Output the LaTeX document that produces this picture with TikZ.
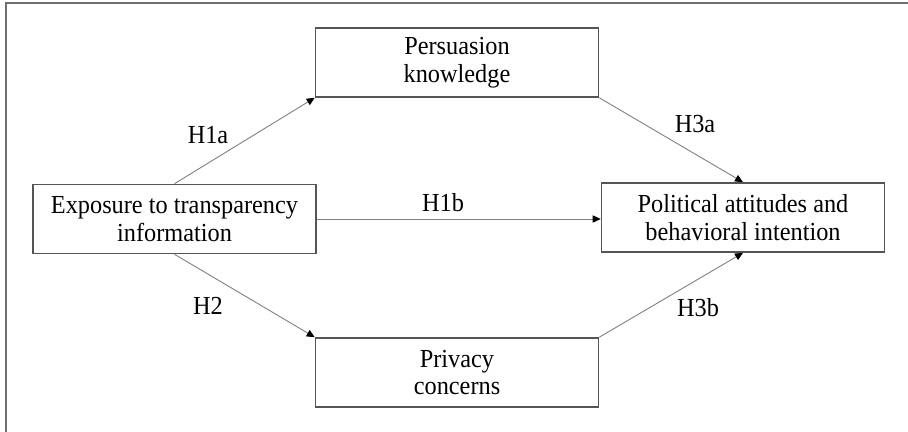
\documentclass[tikz,border=0pt]{standalone}
\usepackage{fontspec}
\setmainfont[FakeStretch=0.935]{Liberation Serif}
\usetikzlibrary{arrows.meta}
\definecolor{boxgray}{HTML}{555555}
\definecolor{linegray}{HTML}{808080}
\tikzset{
	varbox/.style={draw=boxgray, line width=0.8pt, minimum width=141.5pt, minimum height=34.5pt, align=center, inner sep=0pt, font=\fontsize{13}{13.8}\selectfont},
	hyp/.style={font=\fontsize{13}{13.8}\selectfont},
	path/.style={draw=linegray, line width=0.45pt, -{Triangle[length=4pt,width=3.6pt,fill=black,color=black]}}
}

\begin{document}
\begin{tikzpicture}[x=0.5pt, y=-0.5pt]
			%%%%% START %%%%%
			\useasboundingbox (0, 0) rectangle (908, 432);
			\draw[boxgray!85, line width=1pt] (908, 3) -- (6, 3) -- (6, 432);
			
			\node[varbox] (persuasion) at (457, 62.5) {Persuasion\\knowledge};
			\node[varbox] (exposure) at (174.5, 219) {Exposure to transparency\\information};
			\node[varbox] (political) at (743, 217.5) {Political attitudes and\\behavioral intention};
			\node[varbox] (privacy) at (457, 372.5) {Privacy\\concerns};
			
			\draw[path] (exposure.north) -- (persuasion.south west);
			\draw[path] (exposure.east) -- (political.west |- exposure.east);
			\draw[path] (exposure.south) -- (privacy.north west);
			\draw[path] (persuasion.south east) -- (political.north);
			\draw[path] (privacy.north east) -- (political.south);
			
			\node[hyp] (h1a) at (208, 135) {H1a};
			\node[hyp] (h1b) at (443, 203) {H1b};
			\node[hyp] (h2) at (208, 306) {H2};
			\node[hyp] (h3a) at (695, 124) {H3a};
			\node[hyp] (h3b) at (698, 308) {H3b};
			%%%%% END %%%%%
		\end{tikzpicture}
\end{document}
